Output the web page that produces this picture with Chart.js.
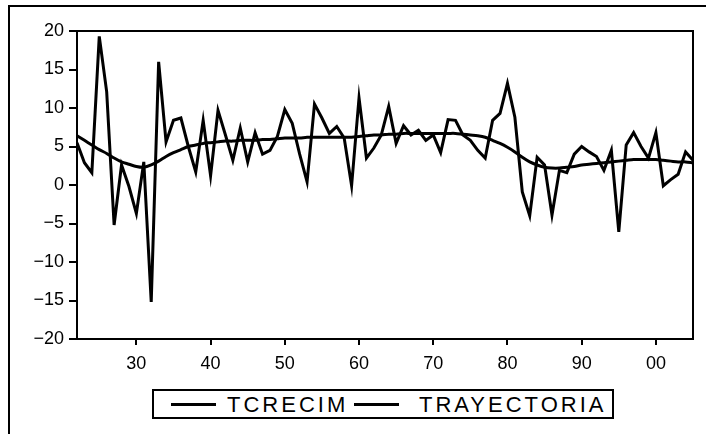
<!DOCTYPE html>
<html>
<head>
<meta charset="utf-8">
<script src="https://cdn.jsdelivr.net/npm/chart.js@4/dist/chart.umd.min.js"></script>
<style>
    body { margin: 0; background: #fff; }
    #wrap { position: relative; width: 706px; height: 434px; overflow: hidden; }
    #frame {
        position: absolute; left: 8px; top: 5px; width: 720px; height: 450px;
        border-left: 2px solid #000; border-top: 2px solid #000;
    }
    #chart { position: absolute; left: 0; top: 0; }
    #legend {
        position: absolute; left: 152px; top: 389px; width: 458px; height: 26px;
        border: 2px solid #000; background: #fff;
        font-family: "Liberation Sans", Arial, sans-serif; font-size: 22px; letter-spacing: 3px;
    }
    #legend .item { position: absolute; top: 0; height: 26px; line-height: 27px; }
    #legend .swatch { position: absolute; top: 12px; height: 3px; width: 45px; background: #000; }
</style>
</head>
<body>
<div id="wrap">
    <div id="frame"></div>
    <canvas id="chart" width="706" height="434"></canvas>
    <div id="legend"></div>
</div>
<script>
// years of the annual series
const years = [
    1922, 1923, 1924, 1925, 1926, 1927, 1928, 1929, 1930, 1931,
    1932, 1933, 1934, 1935, 1936, 1937, 1938, 1939, 1940, 1941,
    1942, 1943, 1944, 1945, 1946, 1947, 1948, 1949, 1950, 1951,
    1952, 1953, 1954, 1955, 1956, 1957, 1958, 1959, 1960, 1961,
    1962, 1963, 1964, 1965, 1966, 1967, 1968, 1969, 1970, 1971,
    1972, 1973, 1974, 1975, 1976, 1977, 1978, 1979, 1980, 1981,
    1982, 1983, 1984, 1985, 1986, 1987, 1988, 1989, 1990, 1991,
    1992, 1993, 1994, 1995, 1996, 1997, 1998, 1999, 2000, 2001,
    2002, 2003, 2004, 2005
];

// annual growth rate
const tcrecim = [
    5.5, 2.9, 1.6, 19.3, 12.1, -5.2, 2.6, -0.2, -3.7, 3.0,
    -15.2, 16.0, 5.6, 8.4, 8.7, 5.0, 1.7, 8.4, 1.2, 9.7,
    6.5, 3.2, 7.4, 3.0, 6.8, 4.0, 4.5, 6.3, 9.8, 8.0,
    4.0, 0.4, 10.5, 8.7, 6.7, 7.6, 6.1, -0.1, 11.3, 3.5,
    4.8, 6.5, 10.2, 5.4, 7.7, 6.5, 7.1, 5.8, 6.5, 4.2,
    8.5, 8.4, 6.5, 5.8, 4.5, 3.5, 8.4, 9.3, 13.2, 8.8,
    -0.9, -4.0, 3.6, 2.6, -3.9, 1.9, 1.6, 4.0, 5.0, 4.3,
    3.7, 1.9, 4.5, -6.1, 5.2, 6.8, 5.0, 3.5, 6.8, -0.1,
    0.7, 1.4, 4.3, 3.2
];

// smoothed trend
const trayectoria = [
    6.4, 5.8, 5.2, 4.6, 4.1, 3.5, 3.0, 2.7, 2.4, 2.3,
    2.6, 3.1, 3.7, 4.2, 4.6, 5.0, 5.2, 5.4, 5.5, 5.6,
    5.7, 5.7, 5.8, 5.8, 5.8, 5.9, 5.9, 6.0, 6.1, 6.1,
    6.1, 6.2, 6.2, 6.2, 6.2, 6.2, 6.2, 6.2, 6.3, 6.4,
    6.5, 6.5, 6.6, 6.6, 6.7, 6.7, 6.7, 6.7, 6.7, 6.7,
    6.7, 6.7, 6.6, 6.5, 6.4, 6.2, 5.8, 5.4, 4.9, 4.3,
    3.6, 3.0, 2.6, 2.3, 2.2, 2.2, 2.3, 2.4, 2.6, 2.7,
    2.8, 2.9, 3.0, 3.1, 3.2, 3.3, 3.3, 3.3, 3.3, 3.2,
    3.1, 3.0, 3.0, 2.9
];

const seriesNames = ["TCRECIM", "TRAYECTORIA"];
const xTickYears = [1930, 1940, 1950, 1960, 1970, 1980, 1990, 2000];
const xTickLabels = ["30", "40", "50", "60", "70", "80", "90", "00"];
const yTicks = [20, 15, 10, 5, 0, -5, -10, -15, -20];

const toPoints = (values) => values.map((v, i) => ({ x: years[i], y: v }));

// box round the plot area
const plotBox = {
    id: "plotBox",
    afterDatasetsDraw(chart) {
        const { ctx, chartArea: a } = chart;
        ctx.save();
        ctx.strokeStyle = "#000";
        ctx.lineWidth = 2;
        ctx.strokeRect(a.left, a.top, a.right - a.left, a.bottom - a.top);
        ctx.restore();
    }
};

const tickFont = { family: "'Liberation Sans', Arial, sans-serif", size: 18 };

new Chart(document.getElementById("chart"), {
    type: "line",
    data: {
        datasets: [
            {
                label: seriesNames[0],
                data: toPoints(tcrecim),
                borderColor: "#000",
                borderWidth: 3,
                pointRadius: 0,
                tension: 0,
                borderJoinStyle: "miter"
            },
            {
                label: seriesNames[1],
                data: toPoints(trayectoria),
                borderColor: "#000",
                borderWidth: 3,
                pointRadius: 0,
                tension: 0.3
            }
        ]
    },
    options: {
        responsive: false,
        animation: false,
        layout: { padding: { left: 0, top: 31, right: 13, bottom: 0 } },
        plugins: { legend: { display: false }, tooltip: { enabled: false } },
        scales: {
            x: {
                type: "linear",
                min: years[0],
                max: years[years.length - 1],
                afterBuildTicks: (s) => { s.ticks = xTickYears.map((v) => ({ value: v })); },
                afterFit: (s) => { s.height = 95; },
                ticks: {
                    color: "#000",
                    font: tickFont,
                    padding: 8,
                    maxRotation: 0,
                    callback: (v) => xTickLabels[xTickYears.indexOf(v)]
                },
                grid: { drawOnChartArea: false, tickLength: 6, lineWidth: 2, color: "#000" },
                border: { color: "#000", width: 2 }
            },
            y: {
                min: -20,
                max: 20,
                afterBuildTicks: (s) => { s.ticks = yTicks.map((v) => ({ value: v })); },
                afterFit: (s) => { s.width = 77; },
                ticks: {
                    color: "#000",
                    font: tickFont,
                    padding: 5,
                    callback: (v) => (v < 0 ? "\u2212" + Math.abs(v) : String(v))
                },
                grid: { drawOnChartArea: false, tickLength: 8, lineWidth: 2, color: "#000" },
                border: { color: "#000", width: 2 }
            }
        }
    },
    plugins: [plotBox]
});

// legend row under the axis
const legend = document.getElementById("legend");
const legendPos = [{ line: 17, text: 73 }, { line: 200, text: 265 }];
seriesNames.forEach((name, i) => {
    const sw = document.createElement("div");
    sw.className = "swatch";
    sw.style.left = legendPos[i].line + "px";
    legend.appendChild(sw);
    const label = document.createElement("div");
    label.className = "item";
    label.style.left = legendPos[i].text + "px";
    label.textContent = name;
    legend.appendChild(label);
});
</script>
</body>
</html>
